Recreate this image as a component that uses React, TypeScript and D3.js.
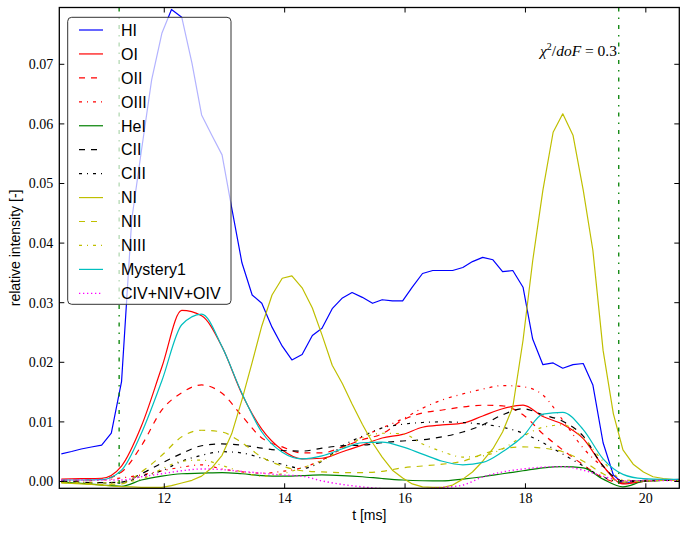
import React from 'react';
import * as d3 from 'd3';

// time grids (ms)
const tFine = [10.29, 10.46, 10.62, 10.79, 10.96, 11.12, 11.29, 11.46, 11.62, 11.79, 11.96, 12.12, 12.29, 12.46, 12.62, 12.79, 12.96, 13.12, 13.29, 13.46, 13.62, 13.79, 13.96, 14.12, 14.29, 14.46, 14.62, 14.79, 14.96, 15.12, 15.29, 15.46, 15.62, 15.79, 15.96, 16.12, 16.29, 16.46, 16.62, 16.79, 16.96, 17.12, 17.29, 17.46, 17.62, 17.79, 17.96, 18.12, 18.29, 18.46, 18.62, 18.79, 18.96, 19.12, 19.29, 19.46, 19.62, 19.79, 19.96, 20.12, 20.29, 20.46, 20.62];
const tCoarse = tFine.filter((_, i) => i % 2 === 0);

const HI = [0.00465, 0.00503, 0.00545, 0.00579, 0.0061, 0.0081, 0.01675, 0.044, 0.0555, 0.0674, 0.0752, 0.0792, 0.0779, 0.0702, 0.0615, 0.0581, 0.0548, 0.0459, 0.0367, 0.0313, 0.0299, 0.0259, 0.0227, 0.0204, 0.0213, 0.0245, 0.0257, 0.029, 0.0308, 0.0317, 0.0309, 0.0299, 0.0305, 0.0303, 0.0303, 0.0326, 0.0349, 0.0354, 0.0354, 0.0354, 0.0359, 0.0369, 0.0376, 0.0372, 0.0352, 0.0354, 0.0326, 0.0239, 0.0196, 0.0199, 0.019, 0.0196, 0.0198, 0.0162, 0.0065, 0.0011, -0.0003, 0.0, 0.0002, 0.0002, 0.0002, 0.0002, 0.0002];
const NI = [-0.00025, -0.0003, -0.0004, -0.0005, -0.0006, -0.00075, -0.00087, -0.0009, -0.001, -0.001, -0.00097, -0.0007, -0.00025, 0.0002, 0.0009, 0.0023, 0.0044, 0.008, 0.0137, 0.02, 0.0261, 0.0313, 0.0341, 0.0345, 0.0325, 0.0291, 0.0246, 0.0195, 0.0164, 0.013, 0.0096, 0.0065, 0.0041, 0.0019, 0.0006, -0.0004, -0.0009, -0.001, -0.001, -0.0006, 0.0004, 0.0016, 0.0034, 0.0055, 0.0083, 0.0125, 0.0237, 0.037, 0.0489, 0.0586, 0.0617, 0.0581, 0.0489, 0.0388, 0.022, 0.0114, 0.0053, 0.0029, 0.0016, 0.0008, 0.0005, 0.0003, 0.00025];

const OI = [0.00042, 0.00047, 0.00055, 0.0026, 0.0093, 0.0192, 0.0287, 0.0278, 0.0226, 0.0147, 0.0088, 0.0053, 0.0038, 0.0039, 0.005, 0.0061, 0.0073, 0.0079, 0.0091, 0.0095, 0.0098, 0.011, 0.0122, 0.0128, 0.0109, 0.0096, 0.0072, 0.0026, -0.0004, 0.0, 0.00025, 0.00037];
const OII = [0.00025, 0.00025, 0.0004, 0.0016, 0.006, 0.012, 0.0149, 0.0162, 0.0148, 0.011, 0.0073, 0.0058, 0.0048, 0.0048, 0.0058, 0.007, 0.008, 0.0103, 0.0115, 0.012, 0.0125, 0.0128, 0.0127, 0.0112, 0.008, 0.0053, 0.0028, 0.0006, -0.00025, 0.00017, 0.00025, 0.00025];
const OIII = [0.0001, 0.0001, 0.00025, 0.0006, 0.0011, 0.0018, 0.0024, 0.0028, 0.0021, 0.0016, 0.0014, 0.0017, 0.0023, 0.0036, 0.0056, 0.0075, 0.009, 0.0105, 0.0123, 0.0137, 0.0147, 0.0155, 0.0161, 0.0159, 0.0145, 0.0103, 0.0056, 0.0024, 0.0001, 0.00017, 0.00025, 0.00025];
const HeI = [-0.0001, -0.0003, -0.0006, -0.0008, 0.00025, 0.0009, 0.0013, 0.0014, 0.0015, 0.0013, 0.001, 0.0009, 0.001, 0.0011, 0.001, 0.0008, 0.0005, 0.00025, 0.00013, 0.0001, 0.0004, 0.0008, 0.0013, 0.0018, 0.0023, 0.0025, 0.0023, 0.0004, -0.0009, 0.0, 0.0002, 0.00025];
const CII = [0.0001, -0.0001, -0.0002, -0.0001, 0.0013, 0.0031, 0.0047, 0.006, 0.0063, 0.0061, 0.0056, 0.0052, 0.0051, 0.0056, 0.006, 0.0061, 0.0065, 0.0068, 0.007, 0.0075, 0.0083, 0.0095, 0.0112, 0.0122, 0.0112, 0.0101, 0.0076, 0.0026, 0.0001, 0.0001, 0.00017, 0.00017];
const CIII = [-0.0001, -0.0002, -0.00025, -0.00025, 0.0009, 0.0018, 0.0034, 0.0044, 0.005, 0.0048, 0.0039, 0.0029, 0.0022, 0.0034, 0.006, 0.0076, 0.009, 0.0096, 0.0099, 0.01, 0.0099, 0.0096, 0.0091, 0.0081, 0.0065, 0.0046, 0.0026, 0.00075, -0.0001, 0.0001, 0.00017, 0.00017];
const NII = [-0.0002, -0.0003, -0.0005, -0.0004, 0.0016, 0.0044, 0.0075, 0.0086, 0.0083, 0.0065, 0.0041, 0.0026, 0.0018, 0.0016, 0.0015, 0.0015, 0.0017, 0.0023, 0.0026, 0.0029, 0.0034, 0.0046, 0.0055, 0.0058, 0.0056, 0.005, 0.0034, 0.0013, -0.0001, 0.0001, 0.00017, 0.00017];
const NIII = [-0.0001, -0.0002, -0.00025, -0.0001, 0.0004, 0.0021, 0.0034, 0.0036, 0.0027, 0.0016, 0.0009, 0.0013, 0.0023, 0.0035, 0.0055, 0.0073, 0.0081, 0.008, 0.0063, 0.005, 0.0041, 0.0043, 0.0055, 0.0076, 0.0091, 0.0095, 0.0073, 0.0034, 0.0003, 0.0001, 0.00017, 0.00017];
const Mystery1 = [0.00025, 0.00025, 0.0003, 0.0019, 0.0081, 0.0169, 0.0263, 0.0281, 0.0226, 0.0148, 0.0083, 0.0049, 0.0038, 0.0043, 0.0055, 0.0065, 0.0066, 0.0058, 0.0046, 0.0034, 0.0028, 0.0032, 0.005, 0.0076, 0.0113, 0.0116, 0.0087, 0.0038, 0.0012, 0.00047, 0.00037, 0.00037];
const CNOIV = [0.00025, 0.00025, 0.00025, 0.00025, 0.0008, 0.0013, 0.0018, 0.0021, 0.002, 0.0017, 0.0014, 0.0011, 0.0009, 0.0001, -0.0005, -0.0009, -0.0012, -0.0013, -0.0012, -0.001, -0.0006, 0.00075, 0.0016, 0.0021, 0.0024, 0.0025, 0.0019, 0.0009, 0.0001, 0.0001, 0.00017, 0.00017];

const xTicks = [12, 14, 16, 18, 20];
const yTicks = [0, 0.01, 0.02, 0.03, 0.04, 0.05, 0.06, 0.07];
const vLines = [11.25, 19.55];

const DASH = '6,6';
const DASHDOT = '3,5,1,5';
const DOT = '1.3,2.7';

const series = [
  { name: 'HI', t: tFine, v: HI, color: '#0000ff', dash: null, smooth: false },
  { name: 'OI', t: tCoarse, v: OI, color: '#ff0000', dash: null, smooth: true },
  { name: 'OII', t: tCoarse, v: OII, color: '#ff0000', dash: DASH, smooth: true },
  { name: 'OIII', t: tCoarse, v: OIII, color: '#ff0000', dash: DASHDOT, smooth: true },
  { name: 'HeI', t: tCoarse, v: HeI, color: '#008000', dash: null, smooth: true },
  { name: 'CII', t: tCoarse, v: CII, color: '#000000', dash: DASH, smooth: true },
  { name: 'CIII', t: tCoarse, v: CIII, color: '#000000', dash: DASHDOT, smooth: true },
  { name: 'NI', t: tFine, v: NI, color: '#bfbf00', dash: null, smooth: false },
  { name: 'NII', t: tCoarse, v: NII, color: '#bfbf00', dash: DASH, smooth: true },
  { name: 'NIII', t: tCoarse, v: NIII, color: '#bfbf00', dash: DASHDOT, smooth: true },
  { name: 'Mystery1', t: tCoarse, v: Mystery1, color: '#00bfbf', dash: null, smooth: true },
  { name: 'CIV+NIV+OIV', t: tCoarse, v: CNOIV, color: '#ff00ff', dash: DOT, smooth: true },
];

const W = 689, H = 533;
const L = 59.3, R = 679.3, T = 7.5, B = 488.3;

export default function App() {
  const x = d3.scaleLinear().domain([10.256, 20.556]).range([L, R]);
  const y = d3.scaleLinear().domain([-0.00114, 0.07953]).range([B, T]);
  const serif = '"Liberation Serif", "Times New Roman", serif';
  const sans = '"Liberation Sans", Arial, sans-serif';

  const lineFor = (s: any) => {
    const g = d3.line<number>()
      .x((_, i) => x(s.t[i]))
      .y((d) => y(d))
      .curve(s.smooth ? d3.curveMonotoneX : d3.curveLinear);
    return g(s.v) || '';
  };

  const legX = 67.7, legY = 17.3, legW = 163.3, legH = 287;
  const rowY0 = 30, rowDY = 23.94;

  return (
    <svg width={W} height={H} style={{ position: 'absolute', left: 0, top: 0, background: '#fff' }}>
      <defs>
        <clipPath id="plotclip">
          <rect x={L} y={T} width={R - L} height={B - T} />
        </clipPath>
      </defs>
      <rect x={0} y={0} width={W} height={H} fill="#fff" />
      <g clipPath="url(#plotclip)">
        {series.map((s) => (
          <path key={s.name} d={lineFor(s)} fill="none" stroke={s.color} strokeWidth={s.dash === DOT ? 1.4 : 1.2}
            strokeDasharray={s.dash || undefined} strokeLinejoin="round" />
        ))}
        {vLines.map((v) => (
          <line key={v} x1={x(v)} x2={x(v)} y1={T} y2={B} stroke="#008000" strokeWidth={1.3}
            strokeDasharray="4,6,1.5,6" />
        ))}
      </g>
      {/* frame */}
      <rect x={L} y={T} width={R - L} height={B - T} fill="none" stroke="#000" strokeWidth={1.3} />
      {/* x ticks */}
      {xTicks.map((t) => (
        <g key={'x' + t}>
          <line x1={x(t)} x2={x(t)} y1={B} y2={B - 5} stroke="#000" strokeWidth={1} />
          <line x1={x(t)} x2={x(t)} y1={T} y2={T + 5} stroke="#000" strokeWidth={1} />
          <text x={x(t)} y={B + 15} textAnchor="middle" fontFamily={serif} fontSize={14} fill="#000">{t}</text>
        </g>
      ))}
      {/* y ticks */}
      {yTicks.map((v) => (
        <g key={'y' + v}>
          <line x1={L} x2={L + 5} y1={y(v)} y2={y(v)} stroke="#000" strokeWidth={1} />
          <line x1={R} x2={R - 5} y1={y(v)} y2={y(v)} stroke="#000" strokeWidth={1} />
          <text x={L - 6} y={y(v)} dy="0.35em" textAnchor="end" fontFamily={serif} fontSize={14} fill="#000">{v.toFixed(2)}</text>
        </g>
      ))}
      <text x={(L + R) / 2} y={520} textAnchor="middle" fontFamily={sans} fontSize={14} fill="#000">t [ms]</text>
      <text transform={`translate(20,${(T + B) / 2}) rotate(-90)`} textAnchor="middle" fontFamily={sans} fontSize={14} fill="#000">relative intensity [-]</text>
      <text x={617} y={56} textAnchor="end" fontFamily={serif} fontSize={15.5} fill="#000">
        <tspan fontStyle="italic">χ</tspan>
        <tspan fontSize={10} dy={-6}>2</tspan>
        <tspan dy={6}>/</tspan>
        <tspan fontStyle="italic">doF</tspan>
        <tspan> = 0.3</tspan>
      </text>
      {/* legend */}
      <g>
        <rect x={legX} y={legY} width={legW} height={legH} rx={4} ry={4} fill="#fff" fillOpacity={0.7}
          stroke="#333" strokeWidth={1} />
        {series.map((s, i) => {
          const cy = rowY0 + i * rowDY;
          return (
            <g key={'leg' + s.name}>
              <line x1={79} x2={103} y1={cy} y2={cy} stroke={s.color} strokeWidth={s.dash === DOT ? 1.4 : 1.2}
                strokeDasharray={s.dash || undefined} />
              <text x={121} y={cy} dy="0.36em" fontFamily={sans} fontSize={16} fill="#000">{s.name}</text>
            </g>
          );
        })}
      </g>
    </svg>
  );
}
